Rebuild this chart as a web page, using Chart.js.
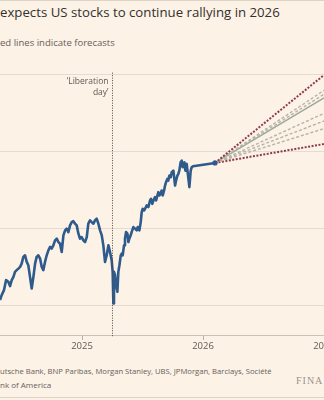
<!DOCTYPE html>
<html><head><meta charset="utf-8">
<script src="https://cdn.jsdelivr.net/npm/chart.js@4"></script>
<style>
html,body{margin:0;padding:0;background:#fdf2e6;}
#wrap{position:relative;width:324px;height:400px;overflow:hidden;background:#fdf2e6;}
.t{position:absolute;left:0;white-space:nowrap;font-family:'Open Sans',sans-serif;line-height:1;}
#title{top:6px;font-size:14px;color:#33302e;}
#sub{top:38px;font-size:10px;color:#66605b;}
#src1{top:368px;font-size:8px;color:#66605b;}
#src2{top:381px;font-size:8px;color:#66605b;}
#ft{left:296px;top:376px;font-family:'Liberation Serif',serif;font-size:10px;letter-spacing:1px;color:#9b938c;}
#c{position:absolute;left:0;top:60px;}
.rule{position:absolute;left:0;width:324px;height:1px;background:#ddd3c9;}
</style></head>
<body>
<div id="wrap">
  <div class="rule" style="top:0"></div>
  <div class="t" id="title">expects US stocks to continue rallying in 2026</div>
  <div class="t" id="sub">ed lines indicate forecasts</div>
  <canvas id="c" width="340" height="299"></canvas>
  <div class="t" id="src1">utsche Bank, BNP Paribas, Morgan Stanley, UBS, JPMorgan, Barclays, Société</div>
  <div class="t" id="src2">nk of America</div>
  <div class="t" id="ft">FINA</div>
  <div class="rule" style="top:397px"></div>
</div>
<script>
// fractional years
const dates = [
2024.322,2024.336,2024.355,2024.372,2024.391,2024.405,2024.419,2024.433,2024.446,2024.460,
2024.474,2024.488,2024.501,2024.515,2024.529,2024.543,2024.556,2024.570,2024.584,2024.598,
2024.612,2024.625,2024.639,2024.653,2024.667,2024.680,2024.694,2024.708,2024.722,2024.736,
2024.749,2024.763,2024.777,2024.791,2024.804,2024.818,2024.832,2024.846,2024.860,2024.873,
2024.887,2024.901,2024.915,2024.928,2024.942,2024.956,2024.970,2024.983,2024.997,2025.011,
2025.025,2025.039,2025.052,2025.066,2025.080,2025.094,2025.107,2025.121,2025.135,
2025.149,2025.163,2025.176,2025.190,2025.204,2025.218,2025.231,2025.245,2025.253,2025.259,
2025.264,2025.273,2025.281,2025.292,2025.300,2025.309,2025.320,2025.328,2025.336,2025.347,
2025.355,2025.364,2025.375,2025.383,2025.391,2025.402,2025.410,2025.424,2025.438,2025.452,
2025.460,2025.474,2025.485,2025.493,2025.501,2025.512,2025.521,2025.534,2025.548,2025.562,
2025.570,2025.581,2025.590,2025.603,2025.612,2025.623,2025.631,2025.639,2025.650,2025.658,
2025.667,2025.678,2025.686,2025.694,2025.705,2025.713,2025.722,2025.733,2025.741,2025.755,
2025.769,2025.777,2025.788,2025.796,2025.804,2025.815,2025.824,2025.832,2025.837,2025.846,
2025.854,2025.865,2025.876,2025.887,2025.898,2025.906,2025.917,2026.099
];
// S&P 500 level
const values = [
5065,5130,5195,5325,5303,5247,5325,5368,5433,5455,
5476,5498,5541,5628,5649,5563,5519,5368,5216,5368,
5541,5628,5649,5606,5498,5455,5563,5649,5714,5758,
5736,5779,5844,5866,5822,5801,5692,5909,5974,5996,
5952,6039,6082,6095,6061,6039,5931,5866,5887,5844,
5822,5887,6061,6104,6082,6061,6104,6126,6061,
5974,5909,5779,5563,5649,5779,5693,5584,5433,5022,
5433,5390,5260,5173,5433,5519,5649,5671,5649,5779,
5866,5952,5931,5822,5866,5909,5952,6017,5996,5974,
6017,5974,6082,6212,6256,6234,6256,6299,6277,6364,
6385,6320,6364,6407,6364,6429,6472,6429,6450,6494,
6429,6494,6558,6602,6645,6623,6688,6667,6732,6753,
6558,6623,6688,6710,6753,6861,6883,6797,6840,6861,
6753,6840,6688,6537,6753,6796,6810,6853
];
// year-end 2026 targets
const forecastTargets = [8000, 7800, 7750, 7700, 7500, 7400, 7300, 7100];
const forecastEnd = 2027;
const yearTicks = [2025, 2026, 2027];
const levelTicks = [5000, 6000, 7000, 8000];
const liberationDay = 2025.249;
const liberationLabel = ['‘Liberation', 'day’'];

function fit(id, w){const el=document.getElementById(id);const fs=parseFloat(getComputedStyle(el).fontSize);const cw=el.getBoundingClientRect().width;el.style.fontSize=(fs*w/cw)+'px';}
fit('title',280);fit('sub',115);fit('src1',272);

const n = dates.length;
const lastT = dates[n-1], lastV = values[n-1];
const sorted = forecastTargets.slice().sort((a,b)=>a-b);
const median = sorted[Math.floor(sorted.length/2)];
const hi = Math.max(...forecastTargets), lo = Math.min(...forecastTargets);

const datasets = [{
  data: dates.map((d,i)=>({x:d,y:values[i]})),
  borderColor:'#2e5a8c', backgroundColor:'#2e5a8c', borderWidth:2.6,
  pointRadius: c => c.dataIndex===n-1 ? 2.6 : 0, pointBorderWidth:0,
  borderJoinStyle:'round', tension:0
}];
forecastTargets.forEach(v=>{
  const red = v===hi || v===lo, solid = v===median;
  datasets.push({
    data:[{x:lastT,y:lastV},{x:forecastEnd,y:v}],
    borderColor: red ? '#8e3a4b' : (solid ? '#9aa897' : '#b6b4a4'),
    borderWidth: red ? 2 : 1.4,
    borderDash: red ? [2,1.5] : (solid ? [] : [3,2]),
    pointRadius:0, tension:0
  });
});

const libPlugin = {
  id:'lib',
  afterDatasetsDraw(chart){
    const {ctx, scales:{x,y}, chartArea} = chart;
    const px = Math.round(x.getPixelForValue(liberationDay))+0.5;
    const top = y.getPixelForValue(8030);
    ctx.save();
    ctx.strokeStyle='#4d4844'; ctx.lineWidth=1; ctx.setLineDash([1,1.5]);
    ctx.beginPath(); ctx.moveTo(px, top); ctx.lineTo(px, chartArea.bottom+2); ctx.stroke();
    ctx.setLineDash([]);
    ctx.fillStyle='#5e5954'; ctx.font='8.5px "Open Sans"'; ctx.textAlign='right'; ctx.textBaseline='middle';
    liberationLabel.forEach((s,i)=>ctx.fillText(s, px-4, top+9+i*11));
    ctx.restore();
  }
};

new Chart(document.getElementById('c'), {
  type:'line',
  data:{datasets},
  options:{
    responsive:false, animation:false,
    layout:{padding:0, autoPadding:false},
    plugins:{legend:{display:false}, tooltip:{enabled:false}},
    scales:{
      x:{type:'linear', min:2024.322, max:2024.322+340/121,
         afterBuildTicks:s=>{s.ticks=yearTicks.map(v=>({value:v}));},
         afterFit:s=>{s.height=24;},
         ticks:{callback:v=>String(v), font:{family:'Open Sans', size:9.5}, color:'#5f5a55', padding:1, maxRotation:0, autoSkip:false},
         grid:{drawOnChartArea:false, drawTicks:true, tickLength:5, color:'#b9afa6'},
         border:{display:true, color:'#cdc2b8'}},
      y:{min:4610, max:8195,
         afterBuildTicks:s=>{s.ticks=levelTicks.map(v=>({value:v}));},
         afterFit:s=>{s.width=0;},
         ticks:{display:false},
         grid:{color:'#e6dbd0', drawTicks:false},
         border:{display:false}}
    }
  },
  plugins:[libPlugin]
});
</script>
</body></html>
